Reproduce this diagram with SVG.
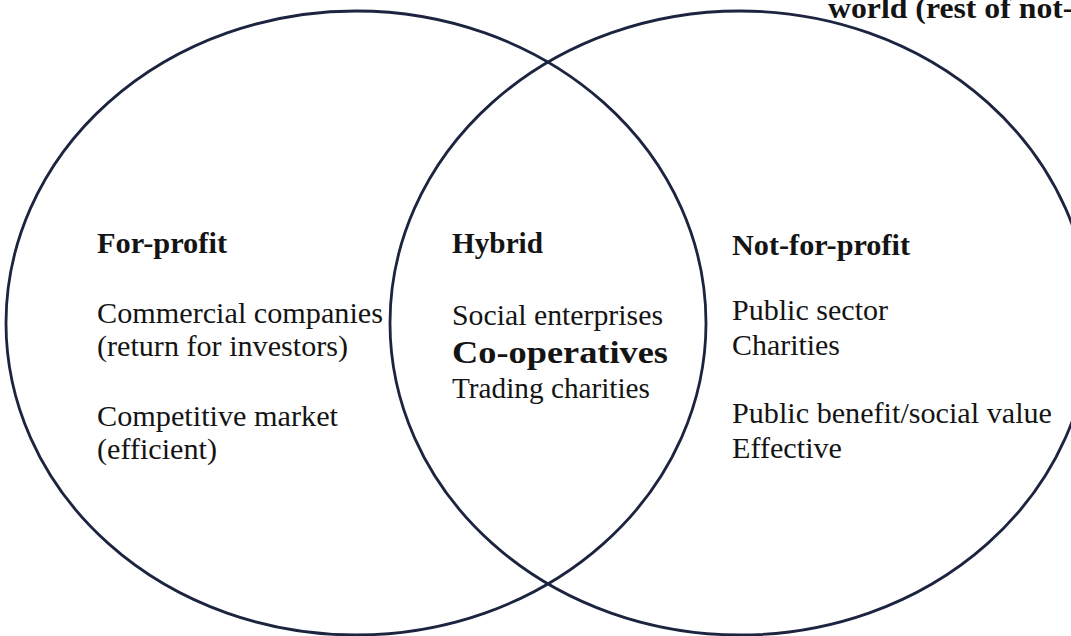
<svg xmlns="http://www.w3.org/2000/svg" width="1071" height="636" viewBox="0 0 1071 636">
  <style>
    .ring { fill: none; stroke: #1c2440; stroke-width: 2.8; }
    .t { font-family: "Liberation Serif", "Times New Roman", serif; font-size: 29px; fill: #141414; }
    .b { font-weight: bold; }
    .big { font-size: 32px; }
  </style>
  <rect width="1071" height="636" fill="#ffffff"/>

  <!-- caption running off the top-right edge -->
  <text class="t b" x="828" y="18" textLength="256" lengthAdjust="spacingAndGlyphs">world (rest of not-f</text>

  <!-- the two overlapping sets -->
  <g id="sets">
    <ellipse id="set-for-profit" class="ring" cx="356" cy="323" rx="350" ry="312"/>
    <ellipse id="set-not-for-profit" class="ring" cx="740" cy="323" rx="350" ry="312"/>
  </g>

  <g id="for-profit">
    <text class="t b" x="97" y="253" textLength="130" lengthAdjust="spacingAndGlyphs">For-profit</text>
    <text class="t" x="97" y="323" textLength="286" lengthAdjust="spacingAndGlyphs">Commercial companies</text>
    <text class="t" x="97" y="356" textLength="251" lengthAdjust="spacingAndGlyphs">(return for investors)</text>
    <text class="t" x="97" y="426" textLength="241" lengthAdjust="spacingAndGlyphs">Competitive market</text>
    <text class="t" x="97" y="459" textLength="120" lengthAdjust="spacingAndGlyphs">(efficient)</text>
  </g>

  <g id="hybrid">
    <text class="t b" x="452" y="253" textLength="91" lengthAdjust="spacingAndGlyphs">Hybrid</text>
    <text class="t" x="452" y="325" textLength="211" lengthAdjust="spacingAndGlyphs">Social enterprises</text>
    <text class="t b big" x="452" y="363" textLength="216" lengthAdjust="spacingAndGlyphs">Co-operatives</text>
    <text class="t" x="452" y="398" textLength="198" lengthAdjust="spacingAndGlyphs">Trading charities</text>
  </g>

  <g id="not-for-profit">
    <text class="t b" x="732" y="255" textLength="178" lengthAdjust="spacingAndGlyphs">Not-for-profit</text>
    <text class="t" x="732" y="320" textLength="156" lengthAdjust="spacingAndGlyphs">Public sector</text>
    <text class="t" x="732" y="355" textLength="108" lengthAdjust="spacingAndGlyphs">Charities</text>
    <text class="t" x="732" y="423" textLength="320" lengthAdjust="spacingAndGlyphs">Public benefit/social value</text>
    <text class="t" x="732" y="458" textLength="110" lengthAdjust="spacingAndGlyphs">Effective</text>
  </g>
</svg>
